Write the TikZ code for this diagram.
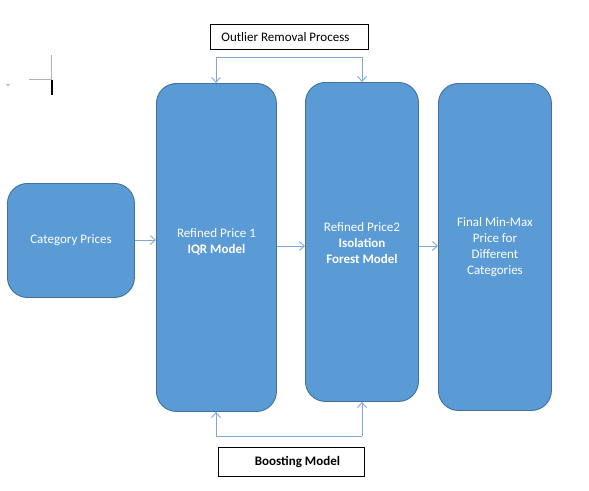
\documentclass[tikz,border=0pt]{standalone}
\usepackage{fontspec}
\setmainfont{Carlito}
\usetikzlibrary{arrows.meta}
\definecolor{boxfill}{HTML}{5B9BD5}
\definecolor{boxline}{HTML}{41719C}
\definecolor{conn}{HTML}{7EA8D8}
\tikzset{
  blk/.style={draw=boxline, line width=0.9pt, fill=boxfill, rounded corners=20pt, text=white, align=center, inner sep=0pt, font=\fontsize{13}{16}\selectfont},
  label box/.style={draw=black, line width=0.9pt, fill=white, inner sep=0pt, font=\fontsize{13}{15}\selectfont},
  conn/.style={draw=conn, line width=0.9pt, -{Straight Barb[length=5pt,width=9pt]}},
  connline/.style={draw=conn, line width=0.9pt},
}
\begin{document}
\begin{tikzpicture}[x=1pt,y=-1pt]
\useasboundingbox (0,0) rectangle (589,490);
% editor artifacts
\draw[gray!60, line width=0.6pt] (51,55) -- (51,79) -- (29,79);
\draw[black, line width=2pt] (52,80) -- (52,95);
\fill[gray!50] (6,84) -- (10,84) -- (8,86.5) -- cycle;

\node[label box, minimum width=158pt, minimum height=25pt, anchor=north west] (orp) at (210,24) {\hspace*{-8pt}Outlier Removal Process};
\node[blk, minimum width=127pt, minimum height=114pt, anchor=north west] (cat) at (7,183) {Category Prices};
\node[blk, minimum width=120pt, minimum height=328pt, anchor=north west] (iqr) at (156,83) {Refined Price 1\\\textbf{IQR Model}\\[-3pt]};
\node[blk, minimum width=113pt, minimum height=319pt, anchor=north west] (iso) at (305,82) {\\[-4pt]Refined Price2\\\textbf{Isolation}\\\textbf{Forest Model}};
\node[blk, minimum width=113pt, minimum height=327pt, anchor=north west] (fin) at (438,83) {Final Min-Max\\Price for\\Different\\Categories};
\node[label box, minimum width=146pt, minimum height=29pt, anchor=north west] (bst) at (218,447) {\hspace*{12pt}\textbf{Boosting Model}};

\coordinate (t1) at (216,57);
\coordinate (t2) at (362,57);
\coordinate (b1) at (216,436);
\coordinate (b2) at (362,436);
\draw[connline] (t1) -- (t2);
\draw[conn] (t1) -- (t1 |- iqr.north);
\draw[conn] (t2) -- (t2 |- iso.north);
\draw[connline] (b1) -- (b2);
\draw[conn] (b1) -- (b1 |- iqr.south);
\draw[conn] (b2) -- (b2 |- iso.south);

\draw[conn] (cat.east |- 0,240) -- (iqr.west |- 0,240);
\draw[conn] (iqr.east |- 0,246) -- (iso.west |- 0,246);
\draw[conn] (iso.east |- 0,246) -- (fin.west |- 0,246);
\end{tikzpicture}
\end{document}
